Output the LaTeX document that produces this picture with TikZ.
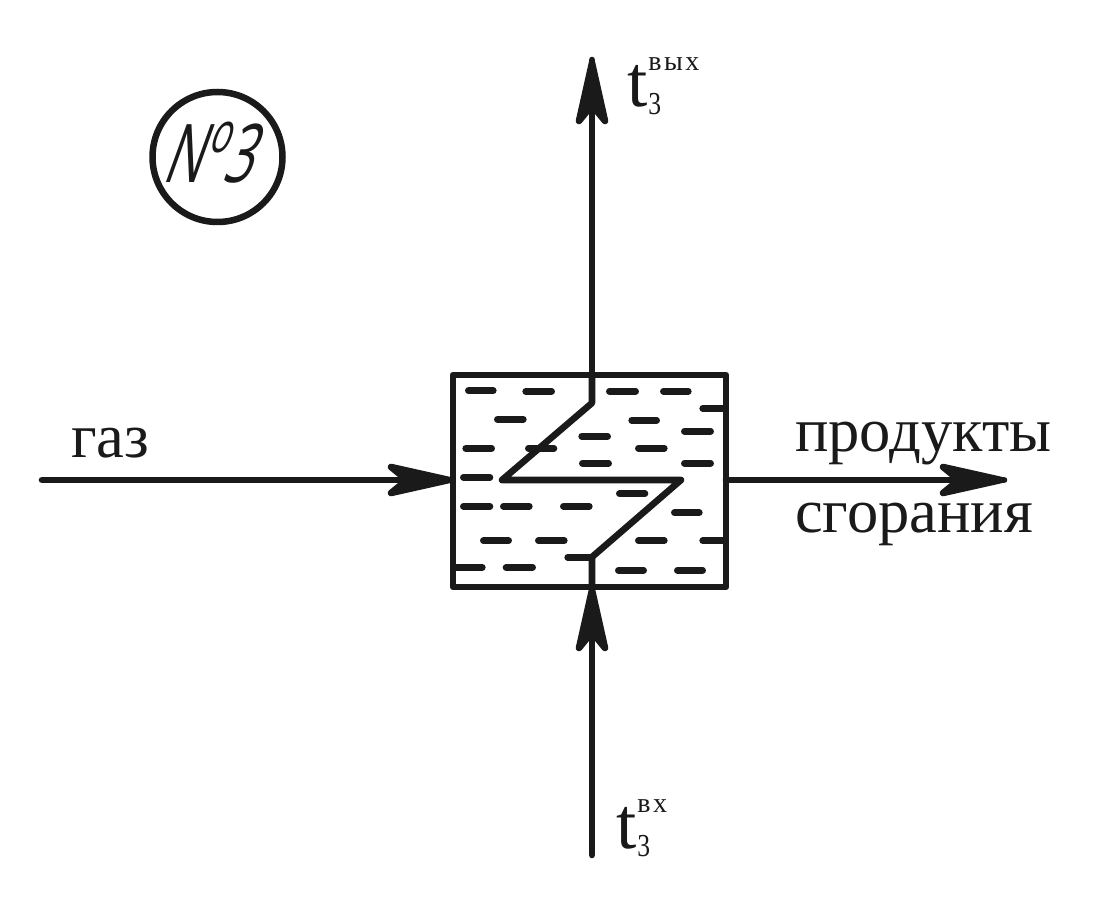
\documentclass[tikz,border=0pt]{standalone}
\usepackage{fontspec}
\setmainfont{Liberation Serif}
\newfontfamily\gostfont[FakeSlant=0.36,FakeStretch=0.62]{Open Sans}
\definecolor{ink}{HTML}{1A1A1A}
\newcommand{\tlabel}[1]{{\fontsize{73}{73}\selectfont t}\hspace{1pt}\raisebox{-8pt}{\scalebox{0.8}[1]{\fontsize{32}{32}\selectfont 3}}\hspace{-13pt}\raisebox{36pt}{\fontsize{28}{28}\selectfont\addfontfeature{LetterSpace=9}#1}}
\tikzset{
  pipe/.style={draw=ink,line width=6.6pt,line cap=round,line join=round},
  fleck/.style={draw=ink,line width=6.6pt,line cap=round},
  vessel/.style={draw=ink,line width=6.6pt,line join=round,minimum width=273pt,minimum height=212pt,inner sep=0pt,outer sep=0pt},
  lbl/.style={text=ink,inner sep=0pt,anchor=base west,font=\fontsize{62.5}{62.5}\selectfont},
  flowhead/.pic={\filldraw[draw=ink,fill=ink,line width=6.6pt,line join=round] (-3,0) -- (-61,-13) -- (-45,0) -- (-61,13) -- cycle;},
}
\begin{document}
\begin{tikzpicture}[x=1pt,y=-1pt]
\useasboundingbox (0,0) rectangle (1112,917);
\fill[white] (0,0) rectangle (1112,917);
\node[vessel] (box) at (589.5,481) {};
\coordinate (coilbot) at (592,587);
\coordinate (bendA) at (592,557);
\coordinate (bendB) at (681,480);
\coordinate (bendC) at (502,480);
\coordinate (bendD) at (592,403);
\coordinate (coiltop) at (592,375);
\coordinate (topend) at (592,60);
\coordinate (botend) at (592,855);
\coordinate (gasend) at (42,480);
\coordinate (prodend) at (1004,480);
\coordinate (boxW) at (452,480);
\coordinate (boxE) at (726,480);
\draw[pipe] (coilbot) -- (bendA) -- (bendB) -- (bendC) -- (bendD) -- (coiltop);
\draw[pipe] (coiltop) -- (topend);
\draw[pipe] (botend) -- (coilbot);
\draw[pipe] (gasend) -- (boxW);
\draw[pipe] (boxE) -- (prodend);
\pic[rotate=90] at (topend) {flowhead};
\pic[rotate=90] at (coilbot) {flowhead};
\pic at (boxW) {flowhead};
\pic at (prodend) {flowhead};
\foreach \a/\b/\y in {85/160/92,257/335/94,508/587/94,670/745/94,788/855/145,172/250/178,575/650/181,733/812/214,425/503/229,77/155/265,265/342/265,595/673/265,427/506/310,733/812/310,70/150/352,538/615/401,70/150/439,190/268/439,370/448/439,703/778/458,130/206/542,295/373/542,595/673/542,788/855/542,383/457/592,48/127/622,198/278/622,535/611/631,712/788/631}
  \draw[fleck] ({440+\a/3},{360+\y/3}) -- ({440+\b/3},{360+\y/3});
\node[draw=ink,line width=6.5pt,circle,minimum size=130pt,inner sep=0pt] (badge) at (217.5,157) {};
\node[text=ink,inner sep=0pt,anchor=base west,font=\gostfont\fontsize{81}{81}\selectfont] (num) at (161,183) {N\hspace{8pt}\raisebox{30pt}{\fontsize{56}{56}\selectfont o}\hspace{-7pt}3};
\node[lbl] (gas) at (71,457) {газ};
\node[lbl] (prod1) at (795,451) {продукты};
\node[lbl] (prod2) at (795,532) {сгорания};
\node[lbl] (tout) at (627,107) {\tlabel{вых}};
\node[lbl] (tin) at (616,848) {\tlabel{вх}};
\end{tikzpicture}
\end{document}
